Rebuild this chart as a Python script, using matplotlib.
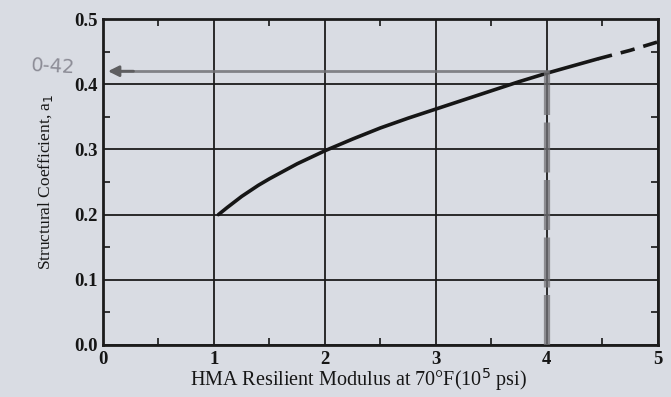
import matplotlib
matplotlib.use('Agg')
import matplotlib.pyplot as plt
from matplotlib.ticker import MultipleLocator, FormatStrFormatter

# structural coefficient curve
modulus = [1.04, 1.12, 1.25, 1.4, 1.5, 1.75, 2.0, 2.25, 2.5, 2.75, 3.0, 3.25, 3.5, 3.75, 4.0, 4.25, 4.46]
coef = [0.200, 0.211, 0.228, 0.245, 0.255, 0.278, 0.298, 0.316, 0.333, 0.348, 0.362, 0.376, 0.390, 0.404, 0.417, 0.429, 0.439]
# extrapolated part (dashed)
modulus_ext = [4.46, 4.75, 5.0]
coef_ext = [0.439, 0.452, 0.465]

# design reading
design_modulus = 4.0
design_coef = 0.42

x_ticks = [0, 1, 2, 3, 4, 5]
y_ticks = [0.0, 0.1, 0.2, 0.3, 0.4, 0.5]

paper = '#d9dce3'
pencil = '#727276'
ink = '#161616'

fig = plt.figure(figsize=(6.71, 3.97), dpi=100, facecolor=paper)
ax = fig.add_axes([0.1535, 0.131, 0.827, 0.821])
ax.set_facecolor(paper)

ax.set_xlim(0, 5)
ax.set_ylim(0, 0.5)
ax.set_xticks(x_ticks)
ax.set_yticks(y_ticks)
ax.yaxis.set_major_formatter(FormatStrFormatter('%.1f'))
ax.xaxis.set_minor_locator(MultipleLocator(0.5))
ax.yaxis.set_minor_locator(MultipleLocator(0.05))
ax.grid(True, which='major', color='#1c1c1c', lw=1.3)
ax.tick_params(which='major', length=0, pad=4, labelsize=13.5, colors=ink)
ax.tick_params(which='minor', direction='in', length=5, width=1.2,
               top=True, right=True, color=ink)
for lab in ax.get_xticklabels() + ax.get_yticklabels():
    lab.set_fontfamily('Liberation Serif')
    lab.set_fontweight('bold')
for sp in ax.spines.values():
    sp.set_linewidth(2.0)
    sp.set_color('#1c1c1c')

ax.plot(modulus, coef, color=ink, lw=2.6, solid_capstyle='round')
ax.plot(modulus_ext, coef_ext, color=ink, lw=2.6, dashes=(4, 2.5))

# pencil marks: horizontal reading line with arrow, vertical at 4
ax.plot([0.12, design_modulus], [design_coef, design_coef], color=pencil, lw=2.0, alpha=0.85)
ax.annotate('', xy=(0.02, design_coef), xytext=(0.3, design_coef),
            arrowprops=dict(arrowstyle='-|>', color='#5e5e60', lw=2.0,
                            mutation_scale=16), annotation_clip=False)
ax.plot([design_modulus, design_modulus], [0.0, design_coef], color=pencil,
        lw=4.5, alpha=0.75, dashes=(8, 1.2), zorder=3)
fig.text(0.045, 0.815, '0-42', fontsize=14, color='#8c8c96',
         fontfamily='DejaVu Sans', rotation=-3)

ax.set_xlabel('HMA Resilient Modulus at 70°F(10$^5$ psi)', fontsize=14.5,
              fontfamily='Liberation Serif', color=ink)
ax.xaxis.set_label_coords(0.46, -0.065)
ax.set_ylabel('Structural Coefficient, a$_1$', fontsize=12.5,
              fontfamily='Liberation Serif', color=ink)
ax.yaxis.set_label_coords(-0.087, 0.5)

fig.savefig('out.png', dpi=100, facecolor=paper)
